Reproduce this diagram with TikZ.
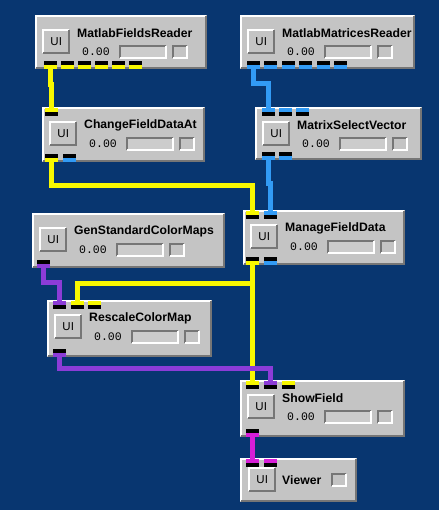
\documentclass[tikz,border=0pt]{standalone}
\usepackage{fontspec}
\setmainfont{Liberation Sans}
\newfontfamily\monof{Liberation Mono}
\usetikzlibrary{calc}
\definecolor{bg}{RGB}{8,54,112}
\definecolor{boxg}{RGB}{196,196,196}
\definecolor{darkg}{RGB}{118,118,118}
\definecolor{slg}{RGB}{204,204,204}
\definecolor{wy}{RGB}{248,248,0}
\definecolor{wb}{RGB}{50,155,245}
\definecolor{wp}{RGB}{140,60,215}
\definecolor{wm}{RGB}{215,30,215}
\tikzset{
  modbox/.style={rectangle, fill=boxg, inner sep=0pt, draw=none},
  uibtn/.style={rectangle, fill=boxg, inner sep=0pt, minimum width=28pt, minimum height=25pt, font=\fontsize{11.5}{11.5}\selectfont},
  ttl/.style={inner sep=0pt, font=\fontsize{12.2}{12.2}\selectfont\bfseries},
  valtxt/.style={inner sep=0pt, font=\monof\fontsize{11.5}{11.5}\selectfont},
  sliderbox/.style={rectangle, fill=slg, inner sep=0pt, minimum width=48pt, minimum height=14pt},
  sqbox/.style={rectangle, fill=boxg, inner sep=0pt, minimum width=16pt, minimum height=14pt},
  portbox/.style={rectangle, fill=black, inner sep=0pt, minimum width=13pt, minimum height=8pt},
  wire/.style={line width=4.5pt},
}
\newcommand\mybevel[3]{%
  \draw[#2, line width=2pt] ([xshift=1pt,yshift=1pt]#1.south west) -- ([xshift=1pt,yshift=-1pt]#1.north west) -- ([xshift=-1pt,yshift=-1pt]#1.north east);
  \draw[#3, line width=2pt] ([xshift=-1pt,yshift=-1pt]#1.north east) -- ([xshift=-1pt,yshift=1pt]#1.south east) -- ([xshift=1pt,yshift=1pt]#1.south west);
}
\newcommand\modulebox[6]{%
  \node[modbox, minimum width=#4pt, minimum height=#5pt, anchor=north west] (#1) at (#2,#3) {};
  \mybevel{#1}{white}{darkg}
  \node[uibtn, anchor=north west] (#1ui) at (#2+7,#3+14) {UI};
  \mybevel{#1ui}{white}{darkg}
  \node[ttl, anchor=west] (#1t) at (#2+42,#3+18) {#6};
}
\newcommand\modulectl[3]{%
  \node[valtxt] (#1v) at (#2+61,#3+37) {0.00};
  \node[sliderbox, anchor=north west] (#1s) at (#2+84,#3+30) {};
  \mybevel{#1s}{darkg}{white}
  \node[sqbox, anchor=north west] (#1q) at (#2+137,#3+30) {};
  \mybevel{#1q}{darkg}{white}
}
\newcommand\inport[4]{%
  \node[portbox, anchor=north west] (#1) at (#2,#3) {};
  \fill[#4] (#1.north west) rectangle (#1.east);
}
\newcommand\outport[4]{%
  \node[portbox, anchor=north west] (#1) at (#2,#3) {};
  \fill[#4] (#1.west) rectangle (#1.south east);
}
\begin{document}
\begin{tikzpicture}[x=1pt, y=-1pt]
\useasboundingbox (0,0) rectangle (439,510);
\fill[bg] (0,0) rectangle (439,510);

% MatlabFieldsReader
\modulebox{m1}{35}{15}{172}{54}{MatlabFieldsReader}
\modulectl{m1}{35}{15}
\outport{m1o1}{44}{61}{wy}
\outport{m1o2}{61}{61}{wy}
\outport{m1o3}{78}{61}{wy}
\outport{m1o4}{95}{61}{wy}
\outport{m1o5}{112}{61}{wy}
\outport{m1o6}{129}{61}{wy}

% MatlabMatricesReader
\modulebox{m2}{240}{15}{175}{54}{MatlabMatricesReader}
\modulectl{m2}{240}{15}
\outport{m2o1}{247}{61}{wb}
\outport{m2o2}{264}{61}{wb}
\outport{m2o3}{282}{61}{wb}
\outport{m2o4}{299}{61}{wb}
\outport{m2o5}{317}{61}{wb}
\outport{m2o6}{334}{61}{wb}

% ChangeFieldDataAt
\modulebox{c}{42}{107}{163}{55}{ChangeFieldDataAt}
\modulectl{c}{42}{107}
\inport{ci1}{45}{108}{wy}
\outport{co1}{45}{154}{wy}
\outport{co2}{63}{154}{wb}

% MatrixSelectVector
\modulebox{s}{255}{107}{167}{53}{MatrixSelectVector}
\modulectl{s}{255}{107}
\inport{si1}{262}{108}{wb}
\inport{si2}{279}{108}{wb}
\inport{si3}{296}{108}{wb}
\outport{so1}{262}{152}{wb}
\outport{so2}{279}{152}{wb}

% ManageFieldData
\modulebox{d}{243}{210}{162}{55}{ManageFieldData}
\modulectl{d}{243}{210}
\inport{di1}{246}{211}{wy}
\inport{di2}{264}{211}{wb}
\outport{do1}{246}{257}{wy}
\outport{do2}{264}{257}{wb}

% GenStandardColorMaps
\modulebox{g}{32}{213}{193}{55}{GenStandardColorMaps}
\modulectl{g}{32}{213}
\outport{go1}{37}{260}{wp}

% RescaleColorMap
\modulebox{r}{47}{300}{165}{57}{RescaleColorMap}
\modulectl{r}{47}{300}
\inport{ri1}{53}{301}{wp}
\inport{ri2}{71}{301}{wy}
\inport{ri3}{88}{301}{wy}
\outport{ro1}{53}{349}{wp}

% ShowField
\modulebox{f}{240}{380}{165}{57}{ShowField}
\modulectl{f}{240}{380}
\inport{fi1}{246}{381}{wy}
\inport{fi2}{264}{381}{wp}
\inport{fi3}{282}{381}{wy}
\outport{fo1}{246}{429}{wm}

% Viewer
\node[modbox, minimum width=117pt, minimum height=44pt, anchor=north west] (v) at (240,458) {};
\mybevel{v}{white}{darkg}
\node[uibtn, anchor=north west] (vui) at (248,467) {UI};
\mybevel{vui}{white}{darkg}
\node[ttl, anchor=west] (vt) at (282,480) {Viewer};
\node[sqbox, anchor=north west] (vq) at (331,473) {};
\mybevel{vq}{darkg}{white}
\inport{vi1}{246}{459}{wm}
\inport{vi2}{264}{459}{wm}

% wires
\draw[wire, wy] (m1o1.south) -- ++(0,15) -| (ci1.north);
\draw[wire, wb] (m2o1.south) -- ++(0,14) -| (si1.north);
\draw[wire, wy] (co1.south) -- ++(0,23) -| (di1.north);
\draw[wire, wb] (so1.south) -- ++(0,23) -| (di2.north);
\draw[wire, wy] (do1.south) -- (fi1.north);
\draw[wire, wy] (do1.south) ++(0,18) -| (ri2.north);
\draw[wire, wp] (go1.south) -- ++(0,14) -| (ri1.north);
\draw[wire, wp] (ro1.south) -- ++(0,11) -| (fi2.north);
\draw[wire, wm] (fo1.south) -- (vi1.north);
\end{tikzpicture}
\end{document}
